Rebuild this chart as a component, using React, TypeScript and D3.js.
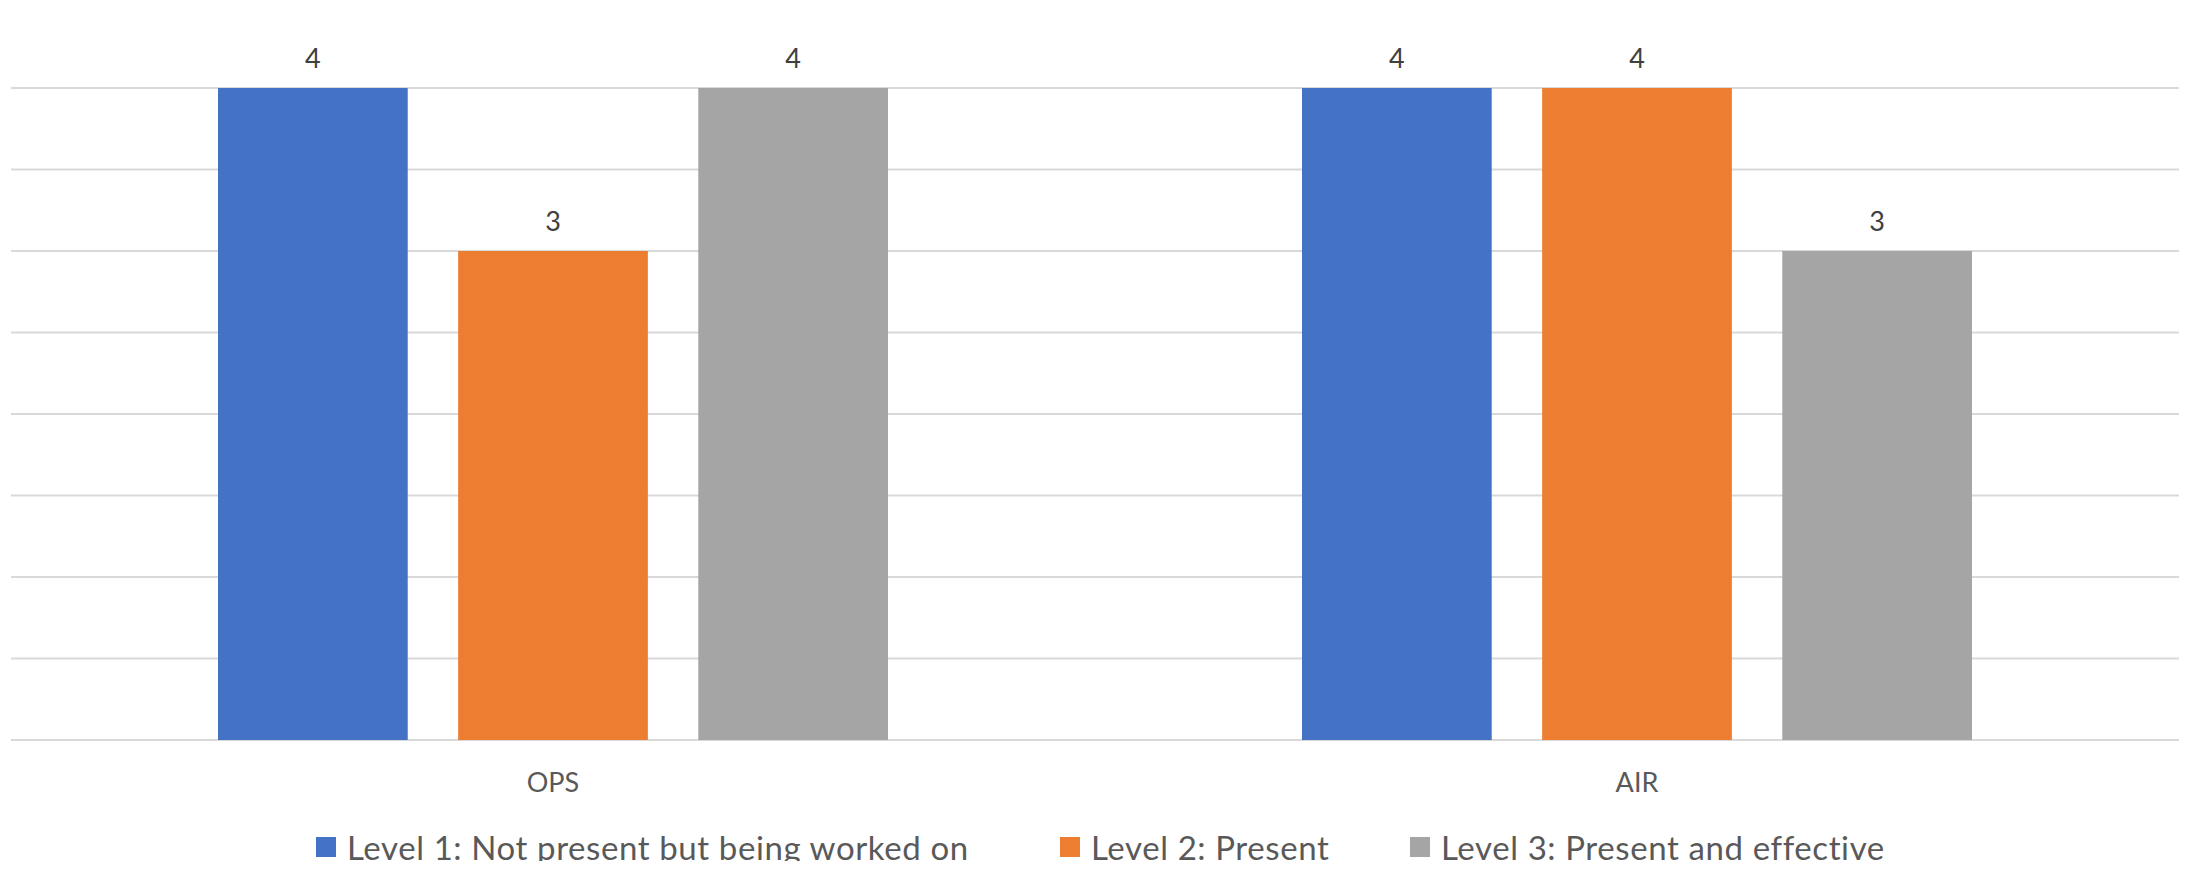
import React from "react";
import * as d3 from "d3";

const categories = ["OPS", "AIR"];
const seriesNames = [
  "Level 1: Not present but being worked on",
  "Level 2: Present",
  "Level 3: Present and effective",
];
const level1 = [4, 4];
const level2 = [3, 4];
const level3 = [4, 3];
const seriesColors = ["#4472C4", "#ED7D31", "#A5A5A5"];
const gridTicks = [0, 0.5, 1, 1.5, 2, 2.5, 3, 3.5, 4, 4.5];

const W = 2192;
const H = 869;
const FONT = "Lato, 'Open Sans', sans-serif";

export default function App() {
  const series = [level1, level2, level3];
  const x0 = d3.scaleBand<string>().domain(categories).range([11, 2179]).padding(0);
  const y = d3.scaleLinear().domain([0, 4.5]).range([740, 6.5]);
  const outer = 207;
  const x1 = d3
    .scaleBand<number>()
    .domain([0, 1, 2])
    .range([outer, x0.bandwidth() - outer])
    .paddingInner(0.21)
    .paddingOuter(0);

  const legendX = [316, 1060, 1410];

  return (
    <div style={{ margin: -8 }}>
      <svg width={W} height={H} style={{ display: "block", background: "#fff" }}>
        {gridTicks.map((t) => (
          <line
            key={t}
            x1={11}
            x2={2179}
            y1={y(t)}
            y2={y(t)}
            stroke="#D9D9D9"
            strokeWidth={2}
          />
        ))}
        {categories.map((c, ci) => (
          <g key={c} transform={`translate(${x0(c)},0)`}>
            {series.map((s, si) => (
              <g key={si}>
                <rect
                  x={x1(si)}
                  y={y(s[ci])}
                  width={x1.bandwidth()}
                  height={y(0) - y(s[ci])}
                  fill={seriesColors[si]}
                />
                <text
                  x={(x1(si) as number) + x1.bandwidth() / 2}
                  y={y(s[ci]) - 20}
                  textAnchor="middle"
                  fontFamily={FONT}
                  fontSize={27}
                  fill="#404040"
                >
                  {s[ci]}
                </text>
              </g>
            ))}
            <text
              x={x0.bandwidth() / 2}
              y={792}
              textAnchor="middle"
              fontFamily={FONT}
              fontSize={27}
              fill="#595959"
            >
              {c}
            </text>
          </g>
        ))}
        {seriesNames.map((n, i) => (
          <g key={n} transform={`translate(${legendX[i]},0)`}>
            <rect x={0} y={837} width={20} height={20} fill={seriesColors[i]} />
            <text
              x={31}
              y={860}
              fontFamily={FONT}
              fontSize={33}
              letterSpacing={0.6}
              fill="#595959"
            >
              {n}
            </text>
          </g>
        ))}
      </svg>
    </div>
  );
}
